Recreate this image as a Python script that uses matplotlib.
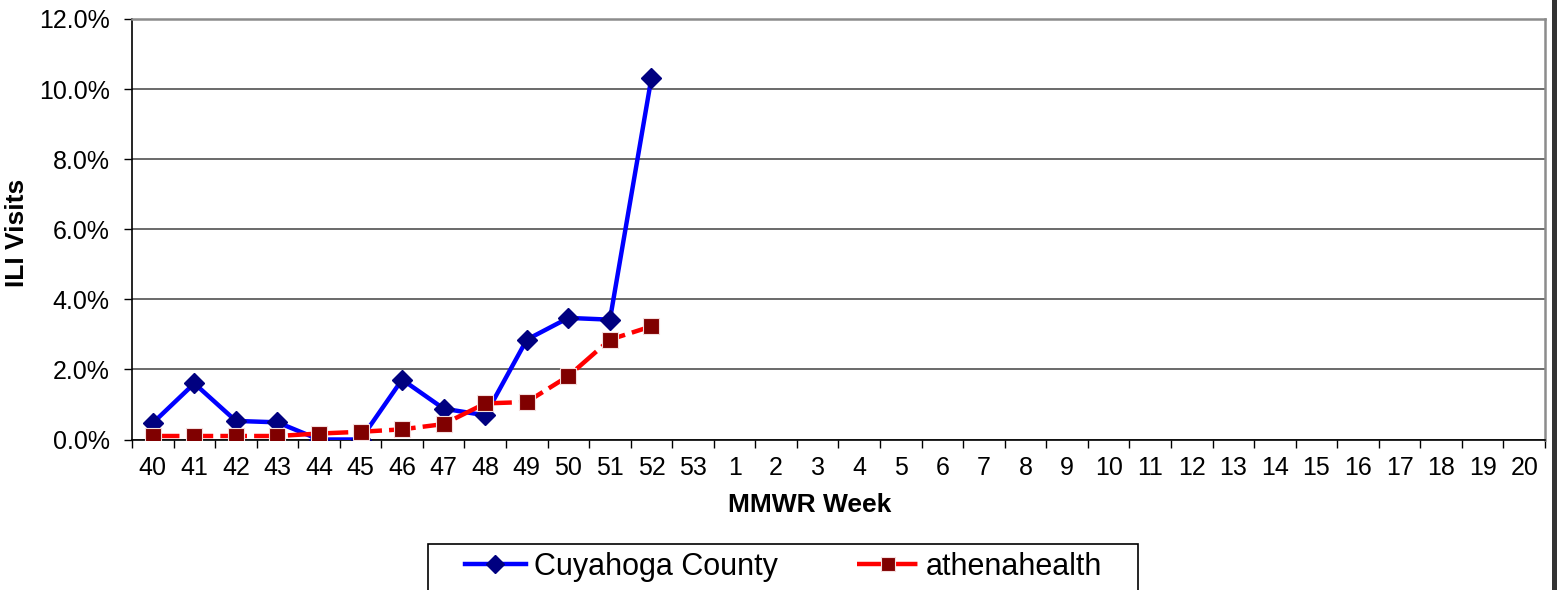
import numpy as np
import matplotlib
matplotlib.use("Agg")
import matplotlib.pyplot as plt
from matplotlib.patches import Rectangle
from matplotlib.ticker import FixedLocator, FuncFormatter

plt.rcParams["font.family"] = ["Liberation Sans", "DejaVu Sans"]

# MMWR weeks on the x axis (season 40 .. 20)
weeks = [str(w) for w in list(range(40, 54)) + list(range(1, 21))]

# % of visits for ILI, only reported through week 52
cuyahoga = [0.47, 1.60, 0.53, 0.49, 0.00, 0.00, 1.71, 0.88, 0.69, 2.85, 3.47, 3.42, 10.33]
athena   = [0.10, 0.10, 0.10, 0.10, 0.17, 0.22, 0.29, 0.44, 1.03, 1.07, 1.81, 2.85, 3.23]

yticks = [0, 2, 4, 6, 8, 10, 12]

W, H = 1557, 590
fig = plt.figure(figsize=(W / 100, H / 100), dpi=100)
fig.patch.set_facecolor("white")
ax = fig.add_axes([132 / W, 1 - 439.5 / H, (1545 - 132) / W, (439.5 - 19) / H])

x = np.arange(len(weeks))
ax.plot(x[:len(cuyahoga)], cuyahoga, color="#0000ff", lw=3.2, marker="D", ms=10.5,
        mfc="#000080", mec="#000080", mew=1, label="Cuyahoga County", zorder=3)
ax.plot(x[:len(athena)], athena, color="#ff0000", lw=3.2, dashes=(6, 1.6),
        marker="s", ms=11, mfc="#800000", mec="#f4dede", mew=0.8,
        label="athenahealth", zorder=4)

ax.set_xlim(-0.5, len(weeks) - 0.5)
ax.set_ylim(0, 12)
ax.set_yticks(yticks)
ax.yaxis.set_major_formatter(FuncFormatter(lambda v, p: f"{v:.1f}%"))
ax.yaxis.grid(True, color="#505050", lw=1.2)
ax.set_axisbelow(True)

ax.set_xticks(x)
ax.set_xticklabels(weeks)
ax.xaxis.set_minor_locator(FixedLocator(np.arange(-0.5, len(weeks), 1.0)))
ax.tick_params(axis="x", which="major", length=0, pad=12, labelsize=18)
ax.tick_params(axis="x", which="minor", length=6, width=1, color="black")
ax.tick_params(axis="y", length=6, width=1, pad=10, labelsize=18)

for s in ("left", "bottom"):
    ax.spines[s].set_color("black")
    ax.spines[s].set_linewidth(1.2)
for s in ("top", "right"):
    ax.spines[s].set_color("#8c8c8c")
    ax.spines[s].set_linewidth(1.8)

fig.text(17 / W, 1 - 233 / H, "ILI Visits", rotation=90, ha="center",
         va="center", fontsize=19, fontweight="bold")
fig.text(810 / W, 1 - 505 / H, "MMWR Week", ha="center", va="center",
         fontsize=19, fontweight="bold")

# legend box (cut off by the bottom edge like the original)
fig.patches.append(Rectangle((428 / W, -0.05), (1138 - 428) / W, 0.05 + 1 - 544 / H,
                             transform=fig.transFigure, fill=False,
                             ec="black", lw=1.2))
handles, labels = ax.get_legend_handles_labels()
fig.legend(handles, labels, loc="center", bbox_to_anchor=(783.5 / W, 1 - 567 / H),
           ncol=2, frameon=False, fontsize=22, handlelength=2.0,
           handletextpad=0.25, columnspacing=2.6, markerscale=0.9)

# dark edge at the right of the image
fig.patches.append(Rectangle((1552 / W, 0), 5 / W, 1, transform=fig.transFigure,
                             color="#333333", lw=0))

fig.savefig("out.png", dpi=100)
